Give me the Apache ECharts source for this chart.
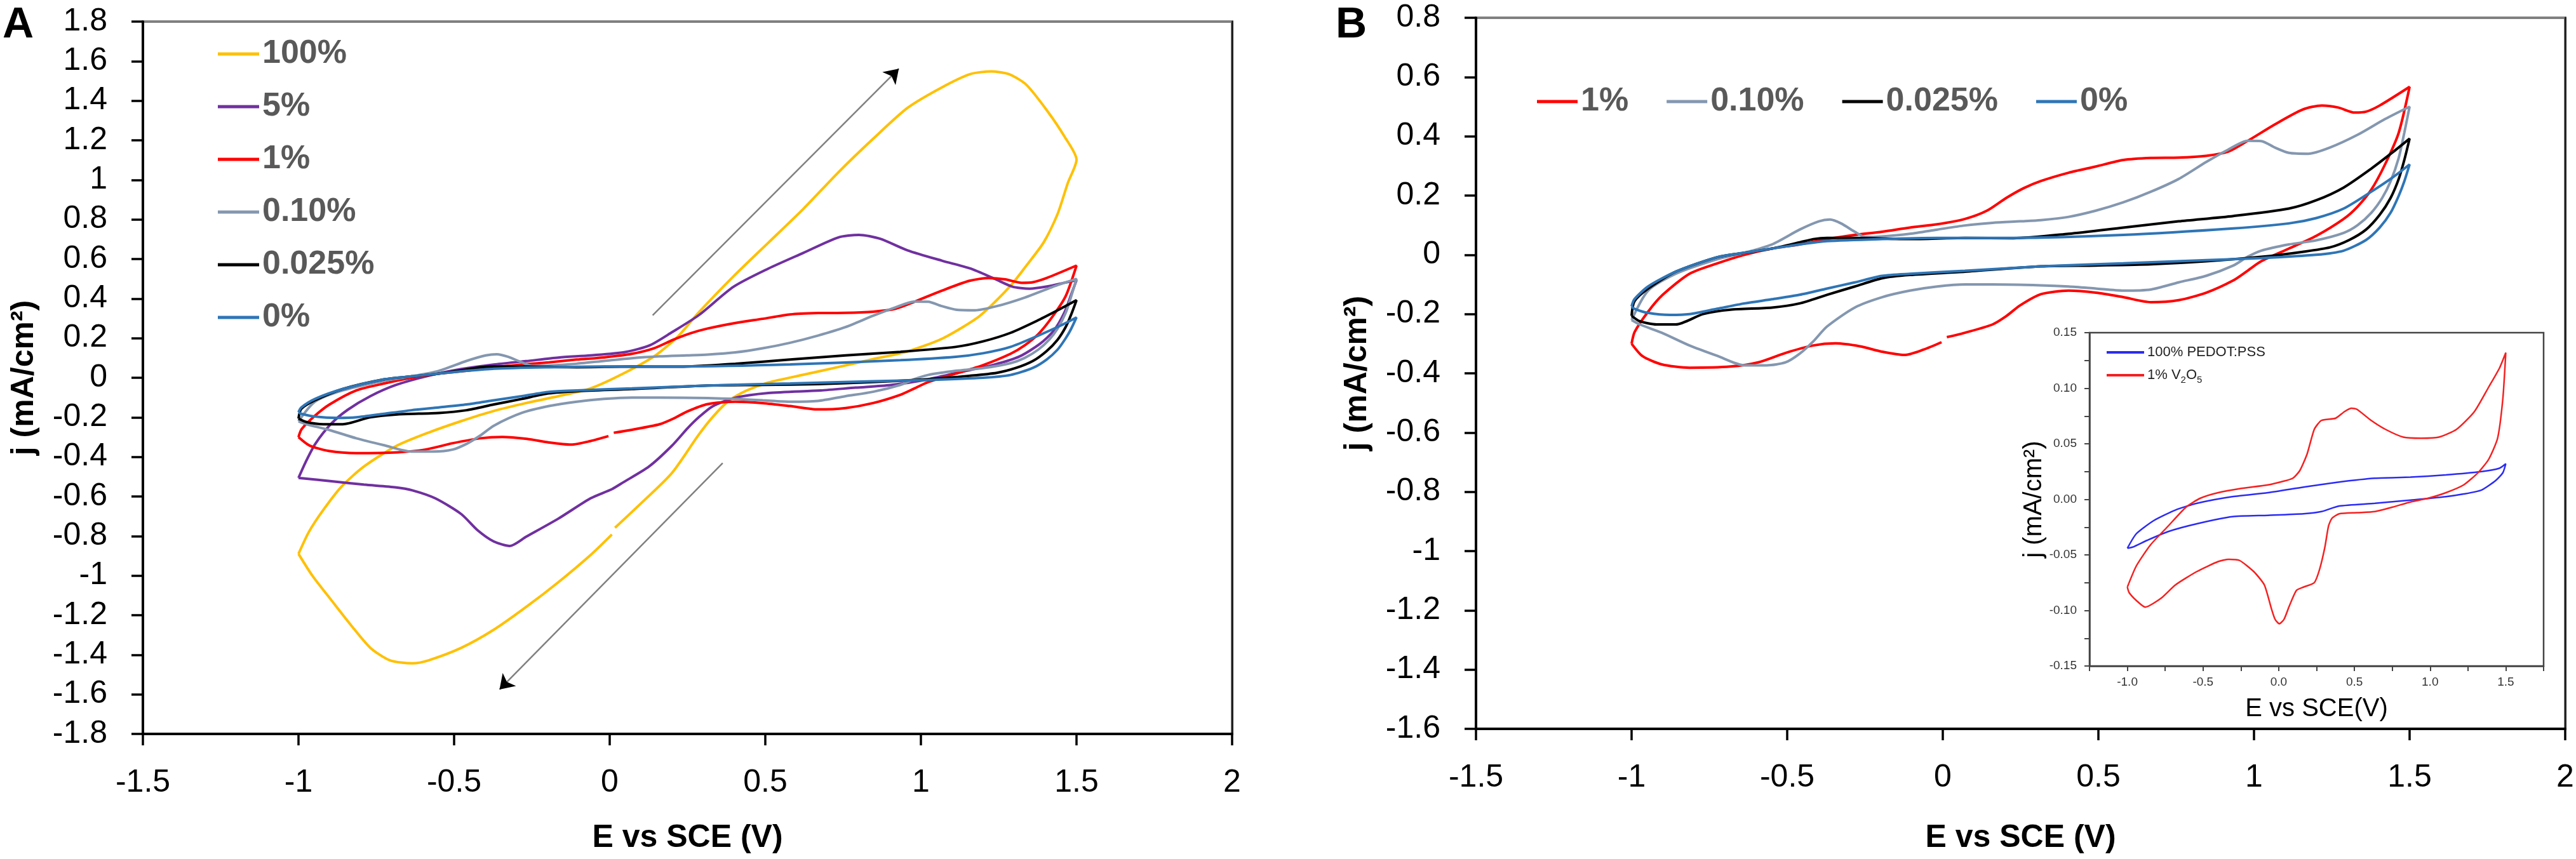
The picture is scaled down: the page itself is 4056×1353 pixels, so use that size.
<!DOCTYPE html>
<html>
<head>
<meta charset="utf-8">
<script src="https://cdn.jsdelivr.net/npm/echarts@6/dist/echarts.min.js"></script>
<style>
html,body{margin:0;padding:0;background:#fff;}
#chart{width:4056px;height:1353px;}
</style>
</head>
<body>
<div id="chart"></div>
<script>
// ---------- DATA (E vs SCE [V], j [mA/cm2]) ----------
const seriesNamesA = ['100%', '5%', '1%', '0.10%', '0.025%', '0%'];
const seriesNamesB = ['1%', '0.10%', '0.025%', '0%'];
const insetNames = ['100% PEDOT:PSS', '1% V2O5'];

const cv100 = [[-1.0,-0.89],[-0.967,-0.78],[-0.925,-0.678],[-0.863,-0.552],[-0.79,-0.449],[-0.686,-0.345],[-0.582,-0.277],[-0.477,-0.219],[-0.373,-0.168],[-0.269,-0.128],[-0.165,-0.093],[-0.061,-0.053],[0.043,0.021],[0.147,0.113],[0.22,0.21],[0.286,0.33],[0.398,0.513],[0.51,0.683],[0.622,0.853],[0.734,1.037],[0.846,1.207],[0.957,1.364],[1.069,1.469],[1.159,1.535],[1.226,1.548],[1.282,1.535],[1.338,1.482],[1.405,1.351],[1.461,1.22],[1.5,1.102],
  [1.472,0.984],[1.439,0.827],[1.394,0.683],[1.338,0.565],[1.293,0.474],[1.237,0.382],[1.181,0.303],[1.069,0.198],[0.957,0.133],[0.846,0.094],[0.734,0.054],[0.622,0.015],[0.51,-0.024],[0.439,-0.065],[0.38,-0.12],[0.33,-0.2],[0.285,-0.29],[0.199,-0.483],[0.095,-0.643],[0.017,-0.758],[0.012,null],[0.007,-0.792],[-0.061,-0.895],[-0.165,-1.033],[-0.269,-1.159],[-0.373,-1.274],[-0.477,-1.365],[-0.582,-1.428],[-0.634,-1.443],[-0.706,-1.428],[-0.769,-1.365],[-0.831,-1.251],[-0.894,-1.125],[-0.956,-0.999],[-1.0,-0.89]];

const cv5 = [[-1.0,-0.506],[-0.977,-0.426],[-0.946,-0.334],[-0.894,-0.231],[-0.842,-0.162],[-0.769,-0.093],[-0.686,-0.036],[-0.582,0.01],[-0.477,0.044],[-0.373,0.067],[-0.269,0.084],[-0.165,0.102],[-0.061,0.113],[0.05,0.13],[0.13,0.165],[0.2,0.23],[0.286,0.316],[0.398,0.46],[0.51,0.552],[0.622,0.631],[0.734,0.709],[0.801,0.722],[0.868,0.703],[0.957,0.644],[1.069,0.591],[1.159,0.552],[1.237,0.5],[1.293,0.461],[1.349,0.45],[1.405,0.461],[1.461,0.48],[1.5,0.493],
  [1.483,0.421],[1.461,0.329],[1.427,0.238],[1.383,0.172],[1.316,0.107],[1.237,0.067],[1.125,0.028],[1.013,-0.011],[0.902,-0.037],[0.79,-0.05],[0.678,-0.064],[0.51,-0.077],[0.398,-0.103],[0.33,-0.145],[0.286,-0.2],[0.251,-0.254],[0.199,-0.345],[0.126,-0.449],[0.043,-0.529],[0.007,-0.563],[-0.061,-0.609],[-0.165,-0.712],[-0.269,-0.804],[-0.321,-0.85],[-0.373,-0.827],[-0.425,-0.77],[-0.477,-0.689],[-0.561,-0.609],[-0.634,-0.569],[-0.686,-0.554],[-0.79,-0.54],[-0.894,-0.523],[-1.0,-0.506]];

const cv1 = [[-1.0,-0.30],[-0.99,-0.26],[-0.947,-0.192],[-0.9,-0.135],[-0.814,-0.064],[-0.725,-0.029],[-0.637,0.0],[-0.549,0.021],[-0.46,0.035],[-0.372,0.053],[-0.283,0.067],[-0.195,0.078],[-0.106,0.092],[-0.018,0.103],[0.071,0.121],[0.142,0.149],[0.204,0.192],[0.26,0.225],[0.315,0.249],[0.404,0.277],[0.492,0.298],[0.58,0.32],[0.669,0.327],[0.758,0.328],[0.846,0.334],[0.917,0.348],[0.979,0.384],[1.067,0.44],[1.156,0.49],[1.218,0.504],[1.271,0.497],[1.324,0.48],[1.36,0.483],[1.404,0.504],[1.5,0.567],
  [1.465,0.412],[1.421,0.305],[1.377,0.22],[1.333,0.163],[1.288,0.121],[1.2,0.064],[1.112,0.021],[1.023,-0.022],[0.979,-0.054],[0.934,-0.086],[0.846,-0.128],[0.758,-0.153],[0.669,-0.16],[0.58,-0.143],[0.492,-0.128],[0.404,-0.121],[0.315,-0.133],[0.248,-0.171],[0.204,-0.207],[0.16,-0.235],[0.071,-0.263],[0.013,-0.278],[0.005,null],[-0.004,-0.295],[-0.062,-0.32],[-0.124,-0.338],[-0.195,-0.327],[-0.266,-0.309],[-0.345,-0.299],[-0.416,-0.306],[-0.505,-0.331],[-0.593,-0.363],[-0.682,-0.377],[-0.814,-0.381],[-0.903,-0.37],[-0.965,-0.342],[-1.0,-0.30]];

const cv010 = [[-1.0,-0.22],[-0.947,-0.121],[-0.858,-0.064],[-0.725,-0.015],[-0.637,0.007],[-0.549,0.035],[-0.46,0.085],[-0.398,0.113],[-0.363,0.119],[-0.327,0.106],[-0.283,0.078],[-0.248,0.06],[-0.195,0.062],[-0.106,0.071],[-0.018,0.085],[0.071,0.099],[0.16,0.108],[0.248,0.113],[0.315,0.117],[0.404,0.128],[0.492,0.149],[0.58,0.177],[0.669,0.213],[0.758,0.256],[0.846,0.313],[0.917,0.355],[0.979,0.385],[1.023,0.384],[1.067,0.362],[1.112,0.344],[1.174,0.341],[1.244,0.362],[1.333,0.405],[1.421,0.458],[1.5,0.5],
  [1.483,0.412],[1.465,0.327],[1.439,0.248],[1.412,0.192],[1.377,0.142],[1.333,0.1],[1.288,0.074],[1.2,0.049],[1.112,0.035],[1.023,0.014],[0.979,-0.007],[0.934,-0.036],[0.846,-0.071],[0.758,-0.093],[0.669,-0.117],[0.58,-0.121],[0.492,-0.114],[0.404,-0.107],[0.315,-0.103],[0.16,-0.1],[0.071,-0.1],[-0.018,-0.107],[-0.106,-0.121],[-0.195,-0.143],[-0.283,-0.178],[-0.372,-0.242],[-0.416,-0.292],[-0.46,-0.334],[-0.505,-0.363],[-0.566,-0.373],[-0.637,-0.373],[-0.725,-0.341],[-0.814,-0.306],[-0.903,-0.263],[-0.974,-0.235],[-1.0,-0.22]];

const cv0025 = [[-1.0,-0.206],[-0.991,-0.157],[-0.947,-0.114],[-0.858,-0.057],[-0.725,-0.008],[-0.637,0.007],[-0.549,0.021],[-0.46,0.042],[-0.416,0.053],[-0.372,0.057],[-0.283,0.057],[-0.106,0.053],[0.071,0.057],[0.227,0.056],[0.404,0.071],[0.58,0.092],[0.758,0.113],[0.934,0.131],[1.112,0.156],[1.2,0.184],[1.288,0.227],[1.377,0.291],[1.448,0.348],[1.5,0.392],
  [1.483,0.32],[1.465,0.256],[1.439,0.192],[1.404,0.135],[1.36,0.085],[1.306,0.05],[1.244,0.025],[1.156,0.01],[1.023,-0.007],[0.846,-0.022],[0.669,-0.032],[0.492,-0.036],[0.315,-0.039],[0.071,-0.057],[-0.106,-0.068],[-0.195,-0.079],[-0.283,-0.107],[-0.372,-0.135],[-0.46,-0.164],[-0.549,-0.178],[-0.682,-0.185],[-0.77,-0.2],[-0.858,-0.235],[-0.92,-0.235],[-0.974,-0.224],[-1.0,-0.206]];

const cv0 = [[-1.0,-0.174],[-0.991,-0.15],[-0.947,-0.107],[-0.858,-0.057],[-0.725,-0.008],[-0.637,0.007],[-0.549,0.021],[-0.46,0.035],[-0.372,0.046],[-0.195,0.053],[-0.018,0.057],[0.227,0.057],[0.58,0.067],[0.934,0.089],[1.112,0.106],[1.2,0.124],[1.288,0.156],[1.377,0.213],[1.448,0.263],[1.5,0.305],
  [1.483,0.248],[1.465,0.199],[1.439,0.142],[1.404,0.092],[1.36,0.05],[1.288,0.014],[1.2,0.0],[1.023,-0.011],[0.846,-0.018],[0.58,-0.029],[0.315,-0.039],[0.071,-0.054],[-0.106,-0.064],[-0.195,-0.071],[-0.283,-0.093],[-0.372,-0.114],[-0.46,-0.135],[-0.549,-0.15],[-0.637,-0.164],[-0.725,-0.182],[-0.814,-0.2],[-0.876,-0.203],[-0.947,-0.196],[-0.991,-0.182],[-1.0,-0.174]];

const insetPedot = [[-1.0,-0.044],[-0.941,-0.031],[-0.824,-0.019],[-0.682,-0.0096],[-0.541,-0.0036],[-0.306,0.0024],[-0.071,0.006],[0.164,0.011],[0.4,0.0156],[0.635,0.019],[0.87,0.02],[1.105,0.022],[1.34,0.025],[1.458,0.028],[1.5,0.032],
  [1.481,0.024],[1.434,0.017],[1.34,0.0084],[1.222,0.0048],[1.105,0.0024],[0.87,-0.0007],[0.635,-0.0036],[0.4,-0.006],[0.282,-0.011],[0.164,-0.013],[-0.071,-0.0144],[-0.306,-0.0156],[-0.541,-0.022],[-0.73,-0.029],[-0.871,-0.037],[-0.965,-0.043],[-1.0,-0.044]];

const insetV2O5 = [[-1.0,-0.079],[-0.941,-0.06],[-0.847,-0.041],[-0.73,-0.024],[-0.612,-0.007],[-0.518,0.001],[-0.4,0.006],[-0.259,0.0096],[-0.071,0.013],[0.023,0.016],[0.093,0.019],[0.14,0.026],[0.188,0.041],[0.235,0.063],[0.282,0.071],[0.376,0.073],[0.435,0.079],[0.482,0.082],[0.517,0.081],[0.611,0.071],[0.705,0.063],[0.823,0.056],[0.94,0.055],[1.058,0.056],[1.175,0.063],[1.293,0.079],[1.387,0.101],[1.458,0.118],[1.5,0.132],
  [1.481,0.091],[1.446,0.055],[1.387,0.036],[1.317,0.024],[1.222,0.013],[1.105,0.006],[0.987,0.001],[0.87,-0.0024],[0.752,-0.007],[0.635,-0.011],[0.517,-0.012],[0.4,-0.013],[0.352,-0.017],[0.329,-0.024],[0.305,-0.043],[0.27,-0.063],[0.235,-0.075],[0.164,-0.079],[0.117,-0.082],[0.07,-0.096],[0.035,-0.108],[0.004,-0.112],[-0.024,-0.108],[-0.047,-0.099],[-0.095,-0.077],[-0.165,-0.065],[-0.259,-0.055],[-0.33,-0.054],[-0.4,-0.056],[-0.541,-0.065],[-0.682,-0.077],[-0.777,-0.089],[-0.882,-0.097],[-0.941,-0.091],[-0.988,-0.084],[-1.0,-0.079]];

const arrowUp = [[0.138, 0.316], [0.929, 1.562]];
const arrowDown = [[0.363, -0.431], [-0.354, -1.575]];

// ---------- STYLE ----------
const FONT = "'Liberation Sans', Arial, sans-serif";
const colors = {'100%':'#FFC000','5%':'#7030A0','1%':'#FF0000','0.10%':'#8497B0','0.025%':'#000000','0%':'#2E75B6'};
const dataMap = {'100%':cv100,'5%':cv5,'1%':cv1,'0.10%':cv010,'0.025%':cv0025,'0%':cv0};

function mainX(gi, nameGap){
  return {type:'value', gridIndex:gi, min:-1.5, max:2, interval:0.5,
    name:'E vs SCE (V)', nameLocation:'middle', nameGap:nameGap,
    nameTextStyle:{fontFamily:FONT, fontSize:50, fontWeight:'bold', color:'#000'},
    axisLine:{show:true, onZero:false, lineStyle:{color:'#000', width:4}},
    axisTick:{show:true, inside:false, length:18, lineStyle:{color:'#000', width:3.5}},
    axisLabel:{fontFamily:FONT, fontSize:50, color:'#000', margin:52},
    splitLine:{show:false}};
}
function mainY(gi, min, max){
  return {type:'value', gridIndex:gi, min:min, max:max, interval:0.2,
    name:'j (mA/cm²)', nameLocation:'middle', nameGap:162,
    nameTextStyle:{fontFamily:FONT, fontSize:50, fontWeight:'bold', color:'#000'},
    axisLine:{show:true, onZero:false, lineStyle:{color:'#000', width:4}},
    axisTick:{show:true, inside:false, length:18, lineStyle:{color:'#000', width:3.5}},
    axisLabel:{fontFamily:FONT, fontSize:50, color:'#000', margin:56,
      formatter: v => String(Math.round(v*10)/10)},
    splitLine:{show:false}};
}
function rightY(gi, min, max){
  return {type:'value', gridIndex:gi, position:'right', min:min, max:max,
    axisLine:{show:true, onZero:false, lineStyle:{color:'#222', width:3}},
    axisTick:{show:false}, axisLabel:{show:false}, splitLine:{show:false}};
}

const series = [];
seriesNamesA.forEach(n => series.push({
  name:n, type:'line', xAxisIndex:0, yAxisIndex:0, data:dataMap[n],
  showSymbol:false, symbol:'none', smooth:0.25, connectNulls:false,
  color:colors[n], lineStyle:{color:colors[n], width:4}, silent:true
}));
series.push({
  type:'line', xAxisIndex:0, yAxisIndex:0, data:[], silent:true,
  markLine:{silent:true, animation:false, label:{show:false},
    data:[
      [{coord:arrowUp[0], symbol:'none', lineStyle:{color:'#808080', width:2.5, type:'solid'}}, {coord:arrowUp[1], symbol:'none'}],
      [{coord:arrowUp[0], symbol:'none', lineStyle:{color:'#000', width:0, type:'solid'}}, {coord:arrowUp[1], symbol:'arrow', symbolSize:22}],
      [{coord:arrowDown[0], symbol:'none', lineStyle:{color:'#808080', width:2.5, type:'solid'}}, {coord:arrowDown[1], symbol:'none'}],
      [{coord:arrowDown[0], symbol:'none', lineStyle:{color:'#000', width:0, type:'solid'}}, {coord:arrowDown[1], symbol:'arrow', symbolSize:22}]
    ]}
});
seriesNamesB.forEach(n => series.push({
  name:n, type:'line', xAxisIndex:1, yAxisIndex:1, data:dataMap[n],
  showSymbol:false, symbol:'none', smooth:0.25, connectNulls:false,
  color:colors[n], lineStyle:{color:colors[n], width:4}, silent:true
}));
series.push({name:insetNames[0], type:'line', xAxisIndex:2, yAxisIndex:2, data:insetPedot,
  showSymbol:false, symbol:'none', smooth:0.2, color:'#2B2BF5', lineStyle:{color:'#2B2BF5', width:2.5}, silent:true, z:5});
series.push({name:insetNames[1], type:'line', xAxisIndex:2, yAxisIndex:2, data:insetV2O5,
  showSymbol:false, symbol:'none', smooth:0.2, color:'#F52020', lineStyle:{color:'#F52020', width:2.5}, silent:true, z:5});

const legendText = {fontFamily:FONT, fontSize:52, fontWeight:'bold', color:'#595959', lineHeight:52};

const option = {
  animation:false,
  backgroundColor:'#fff',
  grid:[
    {left:225, top:34, width:1715, height:1122, show:true, borderColor:'#808080', borderWidth:4, backgroundColor:'transparent'},
    {left:2324, top:28, width:1715, height:1120, show:true, borderColor:'#808080', borderWidth:4, backgroundColor:'transparent'},
    {left:3290, top:524, width:715, height:525, show:true, borderColor:'#444', borderWidth:2.5, backgroundColor:'#fff'}
  ],
  xAxis:[
    mainX(0, 139),
    mainX(1, 147),
    {type:'value', gridIndex:2, min:-1.25, max:1.75, interval:0.25,
      name:'E vs SCE(V)', nameLocation:'middle', nameGap:48,
      nameTextStyle:{fontFamily:FONT, fontSize:40, color:'#000'},
      axisLine:{show:true, onZero:false, lineStyle:{color:'#444', width:2.5}},
      axisTick:{show:true, inside:false, length:8, lineStyle:{color:'#444', width:2}},
      axisLabel:{fontFamily:FONT, fontSize:19, color:'#333', margin:16,
        formatter: v => { const k = Math.round(v*100); return (k % 50 === 0) ? (k/100).toFixed(1) : ''; }},
      splitLine:{show:false}}
  ],
  yAxis:[
    mainY(0, -1.8, 1.8),
    mainY(1, -1.6, 0.8),
    {type:'value', gridIndex:2, min:-0.15, max:0.15, interval:0.025,
      name:'j (mA/cm²)', nameLocation:'middle', nameGap:66,
      nameTextStyle:{fontFamily:FONT, fontSize:40, color:'#000'},
      axisLine:{show:true, onZero:false, lineStyle:{color:'#444', width:2.5}},
      axisTick:{show:true, inside:false, length:8, lineStyle:{color:'#444', width:2}},
      axisLabel:{fontFamily:FONT, fontSize:19, color:'#333', margin:20,
        formatter: v => { const k = Math.round(v*1000); return (k % 50 === 0) ? (k/1000).toFixed(2) : ''; }},
      splitLine:{show:false}},
    rightY(0, -1.8, 1.8),
    rightY(1, -1.6, 0.8)
  ],
  legend:[
    {data:seriesNamesA, orient:'vertical', left:343, top:59, padding:0, itemWidth:65, itemHeight:5,
      itemGap:31, icon:'rect', selectedMode:false, textStyle:legendText},
    {data:seriesNamesB, orient:'horizontal', left:2420, top:134, padding:0, itemWidth:64, itemHeight:5,
      itemGap:60, icon:'rect', selectedMode:false, textStyle:legendText},
    {data:insetNames, orient:'vertical', left:3317, top:540, padding:0, itemWidth:59, itemHeight:4,
      itemGap:6, icon:'rect', selectedMode:false, z:20,
      formatter: n => n === '1% V2O5' ? '{n|1% V}{s|2}{n|O}{s|5}' : '{n|' + n + '}',
      textStyle:{fontFamily:FONT, fontSize:22, color:'#222', lineHeight:30,
        rich:{n:{fontFamily:FONT, fontSize:22, color:'#222', lineHeight:30, verticalAlign:'middle'},
              s:{fontFamily:FONT, fontSize:15, color:'#222', lineHeight:15, verticalAlign:'bottom'}}}}
  ],
  graphic:[
    {type:'text', left:4, top:6, style:{text:'A', font:"bold 68px " + FONT, fill:'#000'}},
    {type:'text', left:2103, top:6, style:{text:'B', font:"bold 68px " + FONT, fill:'#000'}}
  ],
  series:series
};

const chart = echarts.init(document.getElementById('chart'), null, {renderer:'canvas', width:4056, height:1353});
chart.setOption(option);
</script>
</body>
</html>
